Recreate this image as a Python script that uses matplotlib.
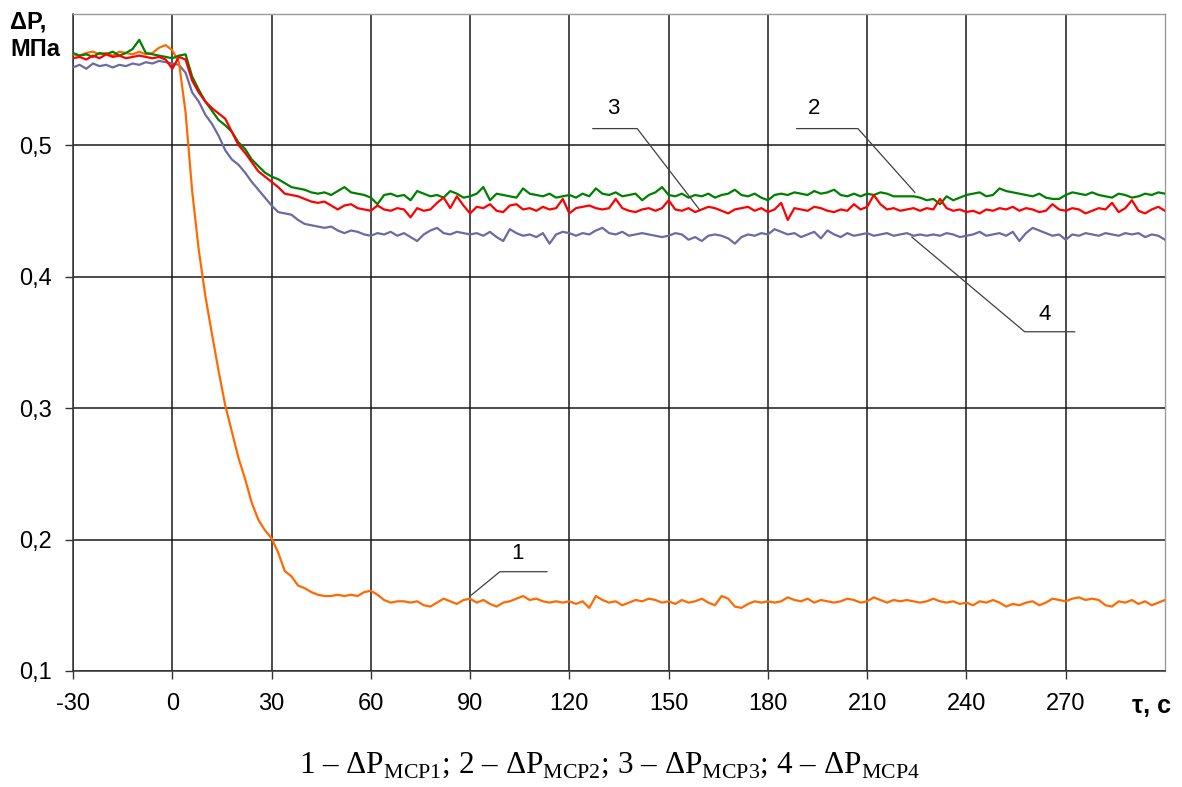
import numpy as np
import matplotlib
matplotlib.use("Agg")
import matplotlib.pyplot as plt

plt.rcParams["font.family"] = ["Liberation Sans", "DejaVu Sans"]

# time, s (sampled every 2 s, -30 ... 300)
t = np.arange(-30, 301, 2)

# 1 - dP MCP1, MPa (orange)
dp1 = [0.569, 0.568, 0.570, 0.571, 0.569, 0.570, 0.568, 0.571, 0.570, 0.569,
       0.571, 0.569, 0.570, 0.574, 0.576, 0.572, 0.563, 0.525, 0.465, 0.420,
       0.385, 0.356, 0.328, 0.302, 0.282, 0.262, 0.246, 0.228, 0.215, 0.207,
       0.201, 0.190, 0.176, 0.172, 0.165, 0.163, 0.160, 0.158, 0.157, 0.157,
       0.158, 0.157, 0.158, 0.157, 0.160, 0.161, 0.158, 0.154, 0.152, 0.153,
       0.153, 0.152, 0.153, 0.150, 0.149, 0.152, 0.155, 0.153, 0.151, 0.154,
       0.155, 0.152, 0.154, 0.151, 0.149, 0.152, 0.153, 0.155, 0.157, 0.154,
       0.155, 0.153, 0.152, 0.153, 0.152, 0.153, 0.151, 0.153, 0.148, 0.157,
       0.154, 0.152, 0.153, 0.150, 0.152, 0.154, 0.153, 0.155, 0.154, 0.152,
       0.153, 0.151, 0.154, 0.152, 0.153, 0.155, 0.152, 0.150, 0.157, 0.155,
       0.149, 0.148, 0.151, 0.153, 0.152, 0.153, 0.152, 0.153, 0.156, 0.154,
       0.153, 0.155, 0.152, 0.154, 0.153, 0.152, 0.153, 0.155, 0.154, 0.152,
       0.153, 0.156, 0.154, 0.152, 0.154, 0.153, 0.154, 0.153, 0.152, 0.153,
       0.155, 0.153, 0.152, 0.153, 0.151, 0.152, 0.150, 0.153, 0.152, 0.154,
       0.152, 0.149, 0.151, 0.150, 0.152, 0.153, 0.150, 0.152, 0.155, 0.154,
       0.153, 0.155, 0.156, 0.154, 0.155, 0.154, 0.150, 0.149, 0.153, 0.152,
       0.154, 0.151, 0.153, 0.150, 0.152, 0.154]

# 2 - dP MCP2 (green)
dp2 = [0.570, 0.568, 0.569, 0.567, 0.570, 0.569, 0.571, 0.568, 0.570, 0.573,
       0.580, 0.570, 0.569, 0.568, 0.567, 0.566, 0.568, 0.569, 0.552, 0.542,
       0.533, 0.526, 0.519, 0.515, 0.510, 0.502, 0.497, 0.489, 0.484, 0.479,
       0.476, 0.474, 0.471, 0.468, 0.467, 0.466, 0.464, 0.463, 0.464, 0.462,
       0.465, 0.468, 0.464, 0.463, 0.462, 0.460, 0.455, 0.462, 0.463, 0.461,
       0.462, 0.458, 0.465, 0.463, 0.461, 0.462, 0.460, 0.465, 0.463, 0.460,
       0.461, 0.463, 0.468, 0.458, 0.463, 0.462, 0.461, 0.460, 0.467, 0.463,
       0.462, 0.461, 0.463, 0.460, 0.461, 0.462, 0.460, 0.463, 0.461, 0.467,
       0.463, 0.462, 0.464, 0.461, 0.462, 0.463, 0.458, 0.462, 0.464, 0.468,
       0.462, 0.461, 0.463, 0.460, 0.462, 0.461, 0.463, 0.460, 0.462, 0.463,
       0.466, 0.462, 0.461, 0.463, 0.460, 0.458, 0.462, 0.463, 0.462, 0.464,
       0.463, 0.462, 0.465, 0.463, 0.464, 0.466, 0.462, 0.461, 0.463, 0.461,
       0.463, 0.462, 0.464, 0.463, 0.461, 0.461, 0.461, 0.461, 0.460, 0.458,
       0.459, 0.455, 0.461, 0.458, 0.460, 0.462, 0.463, 0.464, 0.461, 0.462,
       0.467, 0.465, 0.464, 0.463, 0.462, 0.461, 0.463, 0.460, 0.459, 0.459,
       0.462, 0.464, 0.463, 0.462, 0.464, 0.462, 0.461, 0.460, 0.463, 0.462,
       0.460, 0.461, 0.463, 0.462, 0.464, 0.463]

# 3 - dP MCP3 (red)
dp3 = [0.566, 0.567, 0.565, 0.568, 0.566, 0.569, 0.567, 0.568, 0.566, 0.567,
       0.568, 0.567, 0.566, 0.567, 0.565, 0.558, 0.567, 0.565, 0.549, 0.540,
       0.533, 0.528, 0.524, 0.520, 0.510, 0.500, 0.494, 0.487, 0.480, 0.476,
       0.472, 0.468, 0.463, 0.462, 0.461, 0.459, 0.457, 0.456, 0.457, 0.454,
       0.451, 0.454, 0.455, 0.452, 0.451, 0.450, 0.454, 0.451, 0.450, 0.452,
       0.451, 0.445, 0.452, 0.450, 0.451, 0.456, 0.460, 0.452, 0.461, 0.454,
       0.448, 0.453, 0.452, 0.455, 0.450, 0.449, 0.454, 0.455, 0.451, 0.452,
       0.450, 0.453, 0.451, 0.452, 0.459, 0.448, 0.452, 0.453, 0.454, 0.452,
       0.451, 0.452, 0.459, 0.452, 0.450, 0.449, 0.451, 0.452, 0.450, 0.452,
       0.458, 0.451, 0.450, 0.452, 0.449, 0.451, 0.453, 0.452, 0.450, 0.448,
       0.451, 0.452, 0.453, 0.450, 0.452, 0.449, 0.451, 0.456, 0.443, 0.452,
       0.451, 0.450, 0.453, 0.452, 0.450, 0.449, 0.451, 0.450, 0.455, 0.451,
       0.453, 0.462, 0.455, 0.451, 0.452, 0.450, 0.451, 0.452, 0.450, 0.452,
       0.451, 0.459, 0.452, 0.450, 0.451, 0.449, 0.450, 0.448, 0.451, 0.450,
       0.452, 0.451, 0.453, 0.450, 0.452, 0.451, 0.449, 0.450, 0.455, 0.451,
       0.450, 0.452, 0.451, 0.448, 0.450, 0.452, 0.451, 0.456, 0.449, 0.452,
       0.458, 0.450, 0.448, 0.451, 0.453, 0.450]

# 4 - dP MCP4 (grey-blue)
dp4 = [0.559, 0.561, 0.558, 0.562, 0.560, 0.561, 0.559, 0.561, 0.560, 0.562,
       0.561, 0.563, 0.562, 0.564, 0.563, 0.562, 0.561, 0.555, 0.540, 0.533,
       0.523, 0.516, 0.507, 0.496, 0.489, 0.485, 0.479, 0.472, 0.466, 0.460,
       0.454, 0.449, 0.448, 0.447, 0.443, 0.440, 0.439, 0.438, 0.437, 0.438,
       0.435, 0.433, 0.435, 0.434, 0.432, 0.431, 0.433, 0.432, 0.434, 0.431,
       0.433, 0.430, 0.427, 0.432, 0.435, 0.437, 0.433, 0.432, 0.434, 0.433,
       0.432, 0.433, 0.431, 0.434, 0.430, 0.427, 0.436, 0.433, 0.431, 0.432,
       0.430, 0.433, 0.425, 0.432, 0.434, 0.433, 0.431, 0.433, 0.432, 0.435,
       0.437, 0.433, 0.432, 0.434, 0.431, 0.432, 0.433, 0.432, 0.431, 0.430,
       0.431, 0.433, 0.432, 0.428, 0.430, 0.427, 0.431, 0.432, 0.431, 0.429,
       0.425, 0.430, 0.432, 0.431, 0.433, 0.432, 0.436, 0.434, 0.432, 0.433,
       0.430, 0.432, 0.434, 0.429, 0.435, 0.432, 0.430, 0.433, 0.431, 0.432,
       0.433, 0.431, 0.432, 0.433, 0.431, 0.432, 0.433, 0.431, 0.432, 0.431,
       0.432, 0.431, 0.433, 0.432, 0.430, 0.431, 0.432, 0.434, 0.431, 0.432,
       0.433, 0.431, 0.434, 0.427, 0.433, 0.437, 0.435, 0.433, 0.431, 0.432,
       0.428, 0.432, 0.431, 0.433, 0.432, 0.431, 0.433, 0.432, 0.431, 0.433,
       0.432, 0.433, 0.430, 0.432, 0.431, 0.428]

x_ticks = [-30, 0, 30, 60, 90, 120, 150, 180, 210, 240, 270]
x_labels = ["-30", "0", "30", "60", "90", "120", "150", "180", "210", "240", "270"]
y_ticks = [0.1, 0.2, 0.3, 0.4, 0.5]
y_labels = ["0,1", "0,2", "0,3", "0,4", "0,5"]

fig = plt.figure(figsize=(11.82, 7.87), dpi=100)
ax = fig.add_axes([0.0618, 0.1474, 0.9238, 0.8354])

ax.set_xlim(-30, 300)
ax.set_ylim(0.1, 0.6)
ax.set_xticks(x_ticks)
ax.set_xticklabels(x_labels)
ax.set_yticks(y_ticks)
ax.set_yticklabels(y_labels)
ax.tick_params(labelsize=17, length=6, width=1.0, color="#333333", pad=9)
ax.tick_params(axis="x", pad=10)

# сетка
ax.grid(True, color="#1a1a1a", linewidth=1.1)
ax.set_axisbelow(True)
for s in ["left", "bottom"]:
    ax.spines[s].set_color("#333333")
    ax.spines[s].set_linewidth(1.1)
for s in ["top", "right"]:
    ax.spines[s].set_color("#9a9a9a")
    ax.spines[s].set_linewidth(1.0)

ax.plot(t, dp4, color="#6b6ba3", lw=1.6, zorder=3)
ax.plot(t, dp1, color="#ff6a00", lw=1.6, zorder=3)
ax.plot(t, dp3, color="#ff0000", lw=1.6, zorder=4)
ax.plot(t, dp2, color="#008000", lw=1.6, zorder=3.5)

# выноски с номерами кривых
lc = "#404040"
ax.plot([113.2, 99.0, 90.4], [0.1755, 0.1755, 0.1578], color=lc, lw=0.9, zorder=5)
ax.text(104.4, 0.1897, "1", fontsize=16, ha="center", va="center")
ax.plot([127.1, 140.5, 159.4], [0.5125, 0.5125, 0.4506], color=lc, lw=0.9, zorder=5)
ax.text(133.3, 0.528, "3", fontsize=16, ha="center", va="center")
ax.plot([188.7, 207.2, 224.4], [0.5125, 0.5125, 0.464], color=lc, lw=0.9, zorder=5)
ax.text(194.0, 0.528, "2", fontsize=16, ha="center", va="center")
ax.plot([223.5, 257.6, 272.7], [0.430, 0.358, 0.358], color=lc, lw=0.9, zorder=5)
ax.text(263.7, 0.371, "4", fontsize=16, ha="center", va="center")

# подписи осей
fig.text(10 / 1182, 1 - 22 / 787, "ΔP,", fontsize=17, fontweight="bold",
         ha="left", va="center")
fig.text(10 / 1182, 1 - 49 / 787, "МПа", fontsize=17, fontweight="bold",
         ha="left", va="center")
fig.text(1152 / 1182, 1 - 706 / 787, "τ, с", fontsize=18, fontweight="bold",
         ha="center", va="center")

plt.rcParams["mathtext.fontset"] = "custom"
plt.rcParams["mathtext.rm"] = "Liberation Serif"
caption = (r"1 – ΔP$_{\mathregular{МСР1}}$; 2 – ΔP$_{\mathregular{МСР2}}$; "
           r"3 – ΔP$_{\mathregular{МСР3}}$; 4 – ΔP$_{\mathregular{МСР4}}$")
fig.text(609 / 1182, 1 - 765 / 787, caption, fontsize=22.5,
         family="Liberation Serif", ha="center", va="center")

fig.savefig("out.png", dpi=100)
